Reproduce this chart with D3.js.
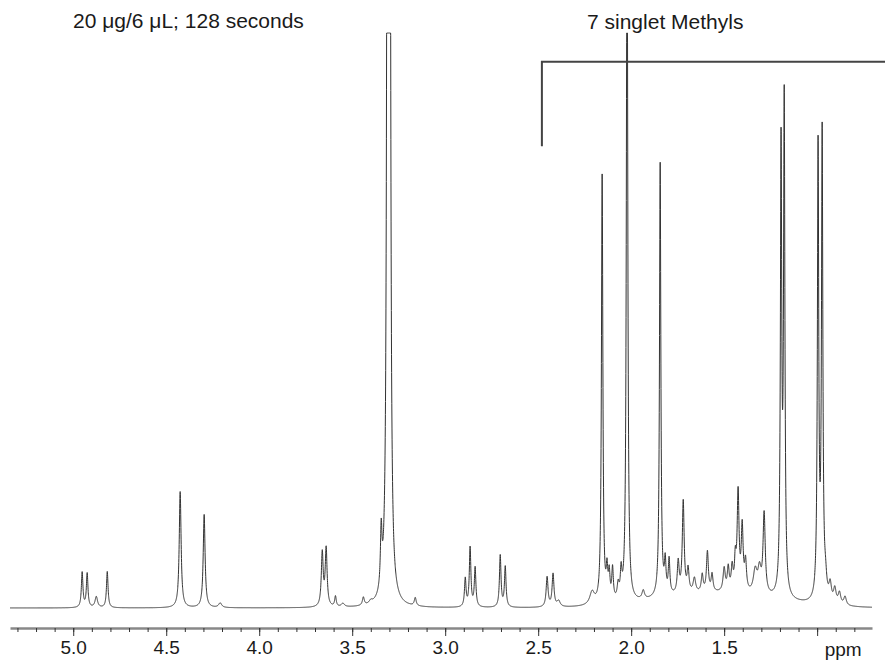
<!DOCTYPE html>
<html>
<head>
<meta charset="utf-8">
<script src="https://cdn.jsdelivr.net/npm/d3@7"></script>
<style>
body { margin: 0; background: #fff; }
svg text { font-family: "Liberation Sans", Arial, sans-serif; fill: #1a1a1a; }
</style>
</head>
<body>
<div id="chart"></div>
<script>
// peaks: shift (ppm), height (% of full scale), half width (ppm)
var peakShifts  = [4.952, 4.925, 4.876, 4.817, 4.425, 4.296, 4.21,
                   3.661, 3.640, 3.59, 3.55, 3.44, 3.40, 3.344,
                   3.296, 3.300, 3.304, 3.308, 3.312,
                   3.161, 2.892, 2.866, 2.839, 2.704, 2.677, 2.452, 2.42, 2.39,
                   2.21, 2.156, 2.13, 2.118, 2.10, 2.07, 2.054, 2.022, 1.935,
                   1.844, 1.817, 1.796, 1.747, 1.72, 1.694, 1.66, 1.618, 1.59, 1.565,
                   1.50, 1.478, 1.457, 1.44, 1.425, 1.403, 1.385, 1.333, 1.31, 1.285,
                   1.194, 1.177, 0.995, 0.973, 0.955, 0.93, 0.905, 0.88, 0.85];
var peakHeights = [6.1, 5.9, 1.9, 6.3, 20.2, 16.2, 0.8,
                   9.3, 10.0, 1.8, 0.6, 1.4, 0.5, 10,
                   60, 120, 180, 120, 60,
                   1.4, 4.9, 10.3, 6.8, 9.0, 7.0, 5.2, 5.7, 1.0,
                   2.2, 74.5, 5, 4.5, 5.5, 2.5, 4.5, 130, 1.5,
                   75.5, 5.5, 6, 5.5, 16, 4, 2.5, 3, 7, 3,
                   4, 4, 4, 5, 17, 11, 5, 4, 4, 14,
                   77, 85, 78.5, 80.5, 3, 3, 2.5, 2, 1.5];
var peakWidths  = [0.005, 0.005, 0.008, 0.005, 0.006, 0.006, 0.01,
                   0.006, 0.006, 0.005, 0.01, 0.006, 0.01, 0.005,
                   0.004, 0.004, 0.004, 0.004, 0.004,
                   0.006, 0.005, 0.005, 0.005, 0.005, 0.005, 0.006, 0.006, 0.01,
                   0.015, 0.0045, 0.005, 0.005, 0.005, 0.006, 0.005, 0.0043, 0.008,
                   0.0043, 0.005, 0.005, 0.006, 0.006, 0.006, 0.008, 0.006, 0.006, 0.006,
                   0.007, 0.006, 0.006, 0.005, 0.006, 0.006, 0.006, 0.012, 0.01, 0.007,
                   0.0043, 0.0043, 0.0043, 0.0043, 0.008, 0.008, 0.008, 0.008, 0.008];
// broad hump under the aliphatic region
var humpCentre = 1.55, humpHeight = 2.5, humpSpread = 0.3;

var majorTicks = [5.0, 4.5, 4.0, 3.5, 3.0, 2.5, 2.0, 1.5, 1.0];
var titleText = "20 \u03bcg/6 \u03bcL; 128 seconds";
var noteText = "7 singlet Methyls";
var unitLabel = "ppm";
// bracket over the methyl singlets: left end (ppm), top and foot (% of full scale)
var bracketPpm = 2.48, bracketTop = 95, bracketFoot = 80.3;

var width = 885, height = 662;

var svg = d3.select("#chart").append("svg")
  .attr("width", width)
  .attr("height", height);

var x = d3.scaleLinear().domain([5.34, 0.705]).range([10, 872]);
var y = d3.scaleLinear().domain([0, 100]).range([608, 33]).clamp(true);

// build trace from the peak list (lorentzian lines)
var trace = [];
for (var p = 5.34; p >= 0.705; p -= 0.0005) {
  var v = humpHeight * Math.exp(-Math.pow(p - humpCentre, 2) / (2 * humpSpread * humpSpread));
  for (var i = 0; i < peakShifts.length; i++) {
    var w2 = peakWidths[i] * peakWidths[i];
    var d = p - peakShifts[i];
    v += peakHeights[i] * w2 / (w2 + d * d);
  }
  trace.push({ppm: p, v: v});
}

var line = d3.line()
  .x(function(d){ return x(d.ppm); })
  .y(function(d){ return y(d.v); });

svg.append("path")
  .datum(trace)
  .attr("d", line)
  .attr("fill", "none")
  .attr("stroke", "#333")
  .attr("stroke-width", 1);

// axis
var axisY = 628;
var minorTicks = d3.range(53, 7, -1).map(function(t){ return t / 10; });

var minorAxis = d3.axisBottom(x)
  .tickValues(minorTicks)
  .tickSize(4)
  .tickSizeOuter(0)
  .tickFormat("");

var majorAxis = d3.axisBottom(x)
  .tickValues(majorTicks)
  .tickSize(8)
  .tickSizeOuter(0)
  .tickPadding(5)
  .tickFormat(function(d){ return d === 1 ? "" : d.toFixed(1); });

var gMinor = svg.append("g").attr("transform", "translate(0," + axisY + ")").call(minorAxis);
gMinor.select(".domain").attr("stroke", "#888").attr("stroke-width", 2.5);
gMinor.selectAll(".tick line").attr("stroke", "#333");

var gMajor = svg.append("g").attr("transform", "translate(0," + axisY + ")").call(majorAxis);
gMajor.select(".domain").remove();
gMajor.selectAll(".tick line").attr("stroke", "#333");
gMajor.selectAll(".tick text")
  .attr("font-size", 19)
  .attr("fill", "#1a1a1a");

svg.append("text")
  .attr("x", x(1.0) + 26)
  .attr("y", 656)
  .attr("text-anchor", "middle")
  .attr("font-size", 19)
  .text(unitLabel);

// titles
svg.append("text")
  .attr("x", 73)
  .attr("y", 28)
  .attr("font-size", 21)
  .text(titleText);

svg.append("text")
  .attr("x", 587)
  .attr("y", 29)
  .attr("font-size", 21)
  .text(noteText);

// bracket
svg.append("path")
  .attr("d", "M" + x(bracketPpm) + "," + y(bracketFoot) + "V" + y(bracketTop) + "H" + width)
  .attr("fill", "none")
  .attr("stroke", "#444")
  .attr("stroke-width", 2);
</script>
</body>
</html>
